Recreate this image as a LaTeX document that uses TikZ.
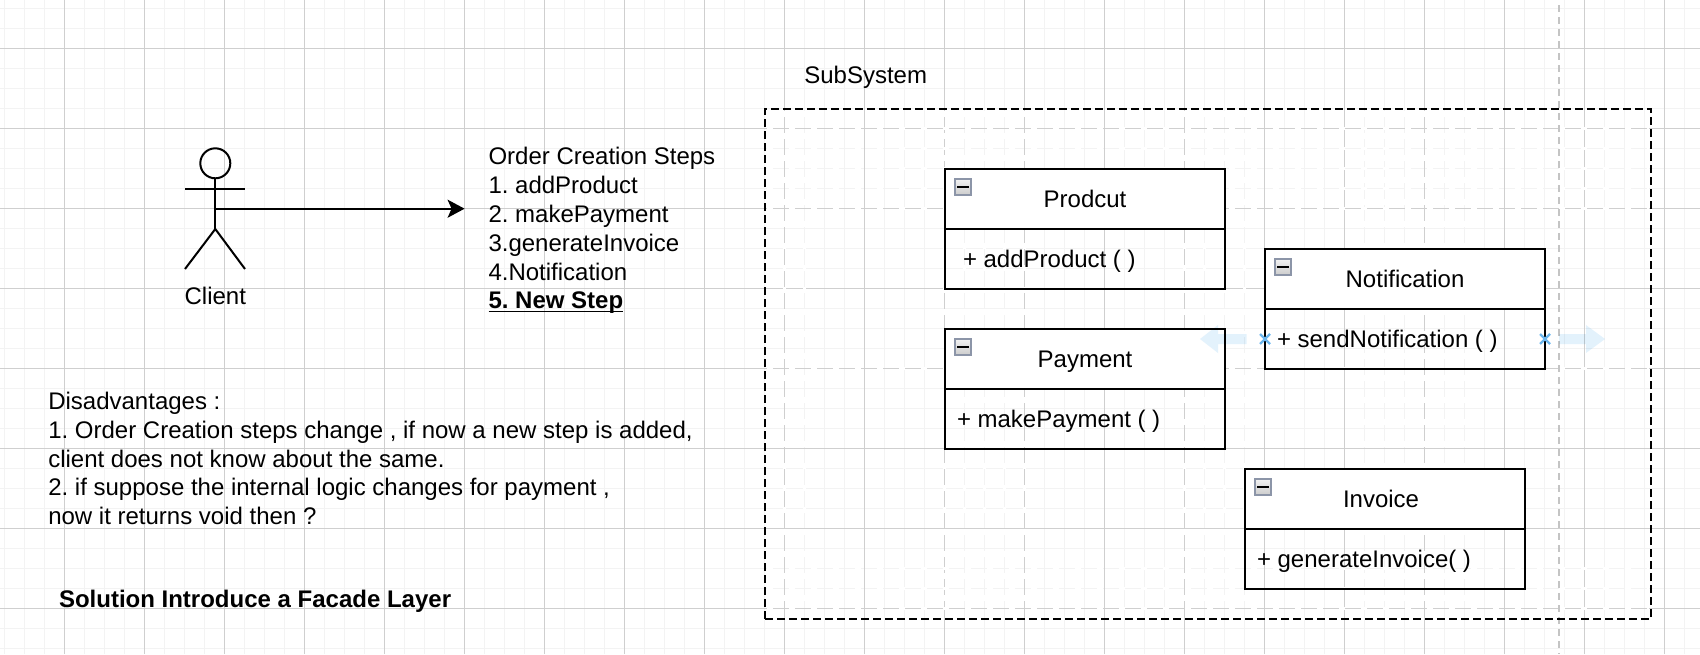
\documentclass[tikz,border=0pt]{standalone}
\usepackage{fontspec}
\setmainfont{Liberation Sans}
\frenchspacing
\newcommand{\lowline}[1]{\sbox0{#1}\rlap{\rule[-1.7pt]{\wd0}{0.7pt}}\usebox0}
\usetikzlibrary{arrows.meta,positioning,shapes.misc}
\definecolor{gridmajor}{HTML}{CFCFCF}
\definecolor{gridminor}{HTML}{F3F3F3}
\definecolor{guideline}{HTML}{C4C4C4}
\definecolor{handleblue}{HTML}{6DB7EE}
\definecolor{hintblue}{HTML}{E3F2FC}
\definecolor{iconedge}{HTML}{8C95A8}
\tikzset{
    every node/.style={font=\fontsize{12}{14.4}\selectfont,inner sep=0pt,outer sep=0pt},
    classtext/.style={text height=11pt,text depth=2.4pt},
    classhead/.style={classtext,draw,line width=1pt,fill=white,anchor=north west,minimum width=140pt,minimum height=30pt},
    classbody/.style={classtext,execute at begin node={\spaceskip=3.3pt\relax},draw,line width=1pt,anchor=north west,align=left,inner xsep=6pt,text width=128pt,minimum height=30pt},
    collapseicon/.style={draw=iconedge,line width=1pt,top color=gray!10,bottom color=gray!40,minimum size=8pt,
        path picture={\draw[black,line width=1pt] ([xshift=1pt]path picture bounding box.west)--([xshift=-1pt]path picture bounding box.east);}},
    handlemark/.style={cross out,draw=handleblue,line width=1.1pt,minimum size=5pt},
    hintarrow/.style={fill=hintblue,blend mode=multiply},
    limb/.style={line width=1pt},
    whitedash/.style={white,line width=1.2pt,dash pattern=on 3pt off 8pt},
}
\begin{document}
\begin{tikzpicture}[x=0.5pt,y=-0.5pt]
\useasboundingbox (0,0) rectangle (1700,654);
% page grid
\foreach \gx in {4.5,24.5,...,1700} \draw[gridminor,line width=0.8pt] (\gx,0)--(\gx,654);
\foreach \gy in {8.3,28.3,...,654} \draw[gridminor,line width=0.8pt] (0,\gy)--(1700,\gy);
\foreach \gx in {64.5,144.5,...,1700} \draw[gridmajor,line width=0.5pt] (\gx,0)--(\gx,654);
\foreach \gy in {48.3,128.3,...,654} \draw[gridmajor,line width=0.5pt] (0,\gy)--(1700,\gy);
\foreach \gy in {128.3,148.3,168.3,188.3,208.3,368.3,568.3,588.3,608.3} \draw[whitedash] (767,\gy)--(1649,\gy);
\foreach \gx in {784.5,804.5,944.5,964.5,984.5,1004.5,1024.5,1184.5,1204.5,1224.5,1244.5,1364.5,1384.5,1404.5,1424.5,1444.5,1464.5} \draw[whitedash] (\gx,111)--(\gx,617);
\draw[guideline,line width=1pt,dash pattern=on 3.5pt off 2.5pt] (1559,5)--(1559,654);

% client
\node (clientHead) [circle,draw,line width=1pt,minimum size=15pt] at (215.3,163.3) {};
\coordinate (clientArmL) at (185,188.7);
\coordinate (clientArmR) at (245,188.7);
\coordinate (clientHip) at (215.3,229);
\coordinate (clientFootL) at (185,269);
\coordinate (clientFootR) at (245,269);
\coordinate (clientChest) at (215.3,208.7);
\coordinate (stepsEntry) at (464.6,208.7);
\draw[limb] (clientHead)--(clientHip);
\draw[limb] (clientArmL)--(clientArmR);
\draw[limb] (clientFootL)--(clientHip)--(clientFootR);
\draw[limb,-{Stealth[length=8.5pt,width=9pt,inset=2pt]}] (clientChest)--(stepsEntry);
\node (clientLabel) at (215.3,295.7) {Client};

% texts
\node (orderSteps) [anchor=north west,align=left] at (488.5,147.5) {Order Creation Steps\\1. addProduct\\2. makePayment\\3.generateInvoice\\4.Notification\\\lowline{\textbf{5. New Step}}};
\node (disadvantages) [anchor=north west,align=left] at (48.3,392) {Disadvantages :\\1. Order Creation steps change , if now a new step is added,\\client does not know about the same.\\2. if suppose the internal logic changes for payment ,\\now it returns void then ?};
\node (solutionText) [anchor=west,font=\fontsize{12}{14.4}\selectfont\bfseries] at (59,601) {Solution Introduce a Facade Layer};

% subsystem
\node (subsystemLabel) [anchor=west] at (804.3,77) {SubSystem};
\node (subsystemBox) [draw,line width=1pt,dash pattern=on 4pt off 2pt,anchor=north west,minimum width=443pt,minimum height=255pt] at (765,109) {};

\node (productHead) [classhead] at (945,169) {Prodcut};
\node (productBody) [classbody,inner xsep=9pt,text width=122pt] at (productHead.south west) {+ addProduct ( )};
\node (paymentHead) [classhead] at (945,329) {Payment};
\node (paymentBody) [classbody] at (paymentHead.south west) {+ makePayment ( )};
\node (notificationHead) [classhead] at (1265,249) {Notification};
\node (notificationBody) [classbody] at (notificationHead.south west) {+ sendNotification ( )};
\node (invoiceHead) [classhead] at (1245,469) {Invoice\hspace*{4pt}};
\node (invoiceBody) [classbody] at (invoiceHead.south west) {+ generateInvoice( )};
\foreach \headname in {productHead,paymentHead,notificationHead,invoiceHead}
    \node (\headname Icon) [collapseicon] at ([shift={(18,18)}]\headname.north west) {};

% hover hints on the notification box
\node (handleLeft) [handlemark] at (1265,339) {};
\node (handleRight) [handlemark] at (1545,339) {};
\fill[hintarrow] (1246.5,334)--(1218,334)--(1218,325)--(1200,339)--(1218,353)--(1218,344)--(1246.5,344)--cycle;
\fill[hintarrow] (1559,334)--(1586,334)--(1586,325)--(1605,339)--(1586,353)--(1586,344)--(1559,344)--cycle;
\end{tikzpicture}
\end{document}
